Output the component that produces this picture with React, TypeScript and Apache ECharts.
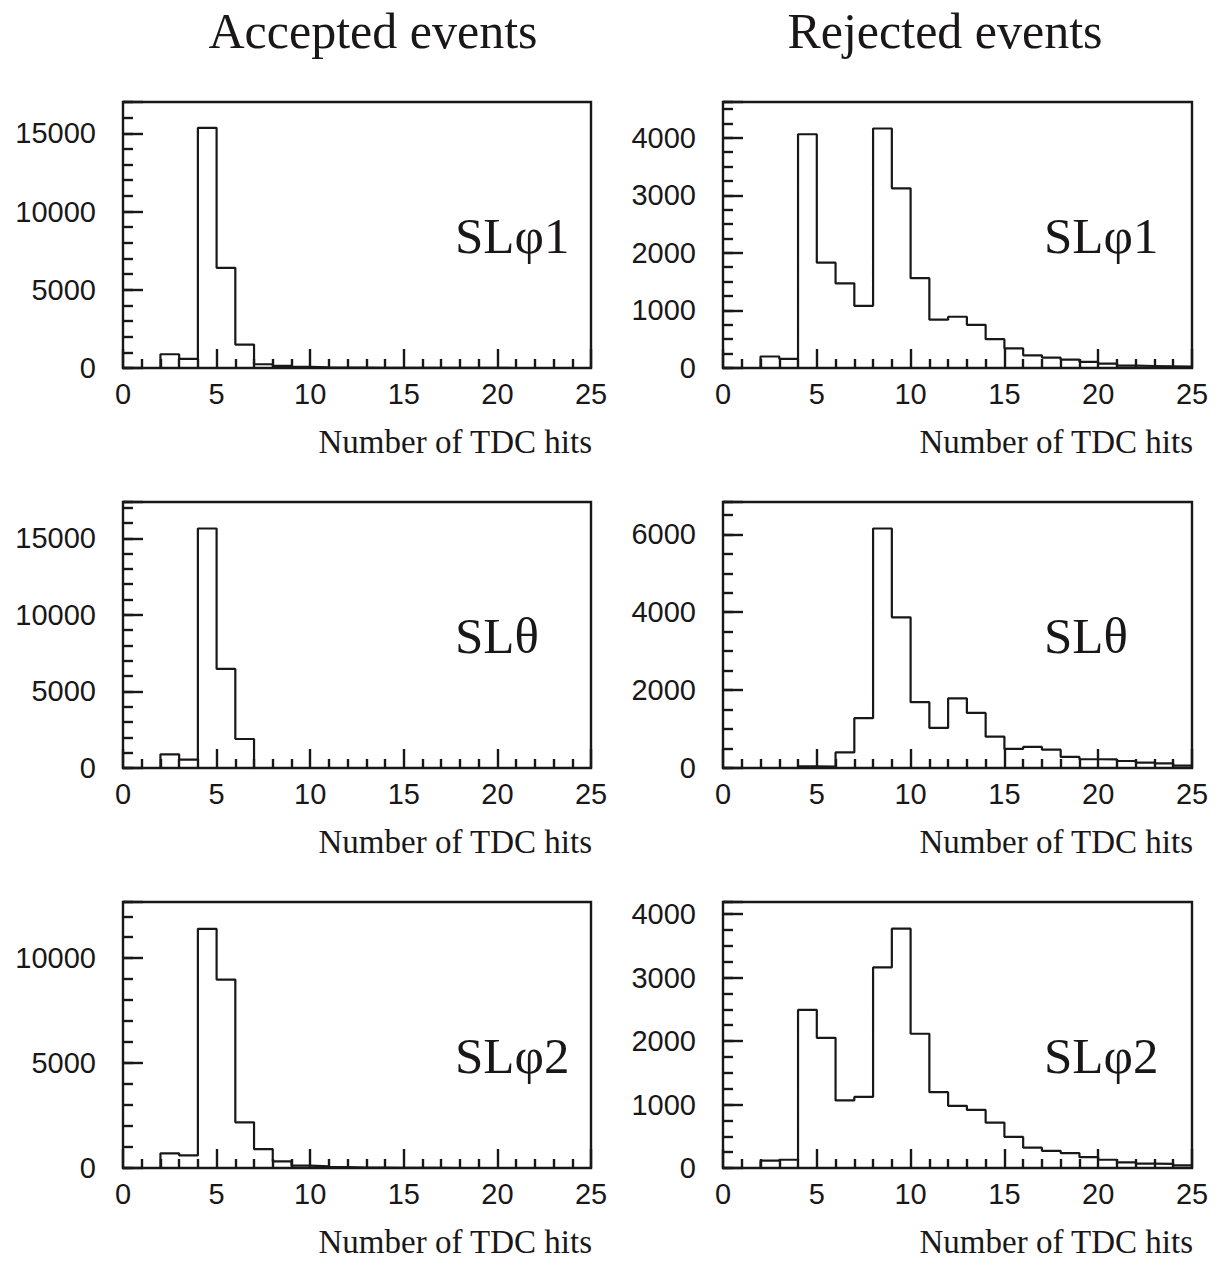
import React, { useEffect, useRef } from "react";
import * as echarts from "echarts";

// ---- Data (bin contents for bins [0,1), [1,2), ... [24,25)) ----
const X_MIN = 0;
const X_MAX = 25;

const acceptedPhi1 = [0, 0, 880, 580, 15350, 6400, 1500, 240, 130, 80, 40, 25, 20, 15, 10, 10, 5, 5, 5, 5, 0, 0, 0, 0, 0];
const rejectedPhi1 = [0, 0, 200, 160, 4060, 1830, 1470, 1080, 4160, 3120, 1560, 840, 890, 750, 500, 340, 220, 180, 145, 105, 75, 40, 35, 30, 25];
const acceptedTheta = [0, 0, 890, 545, 15640, 6470, 1895, 0, 0, 0, 0, 0, 0, 0, 0, 0, 0, 0, 0, 0, 0, 0, 0, 0, 0];
const rejectedTheta = [0, 0, 0, 0, 40, 35, 400, 1280, 6150, 3870, 1690, 1030, 1790, 1415, 805, 490, 540, 470, 285, 225, 220, 180, 140, 120, 60];
const acceptedPhi2 = [0, 0, 700, 600, 11400, 8980, 2175, 900, 320, 110, 80, 40, 20, 15, 10, 5, 5, 0, 0, 0, 0, 0, 0, 0, 0];
const rejectedPhi2 = [0, 0, 115, 130, 2490, 2050, 1065, 1120, 3160, 3770, 2115, 1195, 980, 915, 715, 490, 320, 270, 235, 170, 130, 90, 70, 65, 40];

const columnTitles = ["Accepted events", "Rejected events"];
const rowLabels = ["SLφ1", "SLθ", "SLφ2"];
const xAxisTitle = "Number of TDC hits";

// y-axis ranges: max, major step, minor step
const yMaxes = [17000, 4620, 17370, 6830, 12680, 4190];
const yMajorSteps = [5000, 1000, 5000, 2000, 5000, 1000];
const yMinorSteps = [1000, 250, 1000, 500, 1000, 250];

const panelData = [acceptedPhi1, rejectedPhi1, acceptedTheta, rejectedTheta, acceptedPhi2, rejectedPhi2];

// ---- Layout ----
const INK = "#1a1718";
const SANS = '"Liberation Sans", Arial, Helvetica, sans-serif';
const SERIF = '"Liberation Serif", "Times New Roman", Times, serif';
const COL_LEFT = [123, 723];
const COL_WIDTH = [468, 469];
const ROW_TOP = [102, 502, 902];
const PLOT_H = 266;
const LW = 2.4;

export default function App() {
  const ref = useRef<HTMLDivElement>(null);

  useEffect(() => {
    document.body.style.margin = "0";
    if (!ref.current) return;
    const chart = echarts.init(ref.current, undefined, { renderer: "svg" });

    const grids: any[] = [];
    const xAxes: any[] = [];
    const yAxes: any[] = [];
    const series: any[] = [];
    const graphics: any[] = [];

    panelData.forEach((bins, i) => {
      const row = Math.floor(i / 2);
      const col = i % 2;
      grids.push({
        left: COL_LEFT[col],
        top: ROW_TOP[row],
        width: COL_WIDTH[col],
        height: PLOT_H,
        show: true,
        borderColor: INK,
        borderWidth: LW,
        backgroundColor: "transparent",
        containLabel: false,
        outerBoundsMode: "none",
      });
      xAxes.push({
        type: "value",
        gridIndex: i,
        position: "bottom",
        min: X_MIN,
        max: X_MAX,
        interval: 5,
        axisLine: { show: false },
        axisTick: { show: true, inside: true, length: 19, lineStyle: { color: INK, width: LW } },
        minorTick: { show: true, splitNumber: 5, length: 9, lineStyle: { color: INK, width: LW } },
        splitLine: { show: false },
        minorSplitLine: { show: false },
        axisLabel: { color: INK, fontSize: 29, fontFamily: SANS, margin: 11 },
      });
      const major = yMajorSteps[i];
      // minor tick axis (carries the series)
      yAxes.push({
        type: "value",
        gridIndex: i,
        position: "left",
        min: 0,
        max: yMaxes[i],
        interval: yMinorSteps[i],
        axisLine: { show: false },
        axisTick: { show: true, inside: true, length: 10, lineStyle: { color: INK, width: LW } },
        axisLabel: { show: false },
        splitLine: { show: false },
      });
      // major tick axis with labels
      yAxes.push({
        type: "value",
        gridIndex: i,
        position: "left",
        min: 0,
        max: yMaxes[i],
        interval: major,
        axisLine: { show: false },
        axisTick: { show: true, inside: true, length: 20, lineStyle: { color: INK, width: LW } },
        axisLabel: {
          color: INK,
          fontSize: 29,
          fontFamily: SANS,
          margin: 27,
          formatter: (v: number) => (Math.abs(v % major) < 1e-6 ? String(v) : ""),
        },
        splitLine: { show: false },
      });
      const pts: number[][] = bins.map((v, k) => [X_MIN + k, v]);
      pts.push([X_MAX, bins[bins.length - 1]]);
      series.push({
        type: "line",
        xAxisIndex: i,
        yAxisIndex: 2 * i,
        data: pts,
        step: "end",
        symbol: "none",
        silent: true,
        lineStyle: { color: INK, width: 2.2 },
      });

      const plotRight = COL_LEFT[col] + COL_WIDTH[col];
      const plotBottom = ROW_TOP[row] + PLOT_H;
      // panel label
      graphics.push({
        type: "text",
        x: col === 0 ? 455 : 1044,
        y: ROW_TOP[row] + (row === 2 ? 171 : 151) - 17,
        style: {
          text: rowLabels[row],
          fill: INK,
          fontSize: 51,
          fontFamily: SERIF,
          align: "left",
          textAlign: "left",
          verticalAlign: "middle",
          textVerticalAlign: "middle",
        },
      });
      // x-axis title
      graphics.push({
        type: "text",
        x: plotRight + 1,
        y: plotBottom + 85 - 11,
        style: {
          text: xAxisTitle,
          fill: INK,
          fontSize: 33,
          fontFamily: SERIF,
          align: "right",
          textAlign: "right",
          verticalAlign: "middle",
          textVerticalAlign: "middle",
        },
      });
    });

    const titleX = [373, 945];
    columnTitles.forEach((t, c) => {
      graphics.push({
        type: "text",
        x: titleX[c],
        y: 31,
        style: {
          text: t,
          fill: INK,
          fontSize: 50,
          fontFamily: SERIF,
          align: "center",
          textAlign: "center",
          verticalAlign: "middle",
          textVerticalAlign: "middle",
        },
      });
    });

    chart.setOption({
      animation: false,
      backgroundColor: "#ffffff",
      grid: grids,
      xAxis: xAxes,
      yAxis: yAxes,
      series,
      graphic: graphics,
    });

    return () => {
      chart.dispose();
    };
  }, []);

  return (
    <div
      ref={ref}
      style={{ position: "absolute", left: 0, top: 0, width: 1218, height: 1267 }}
    />
  );
}
